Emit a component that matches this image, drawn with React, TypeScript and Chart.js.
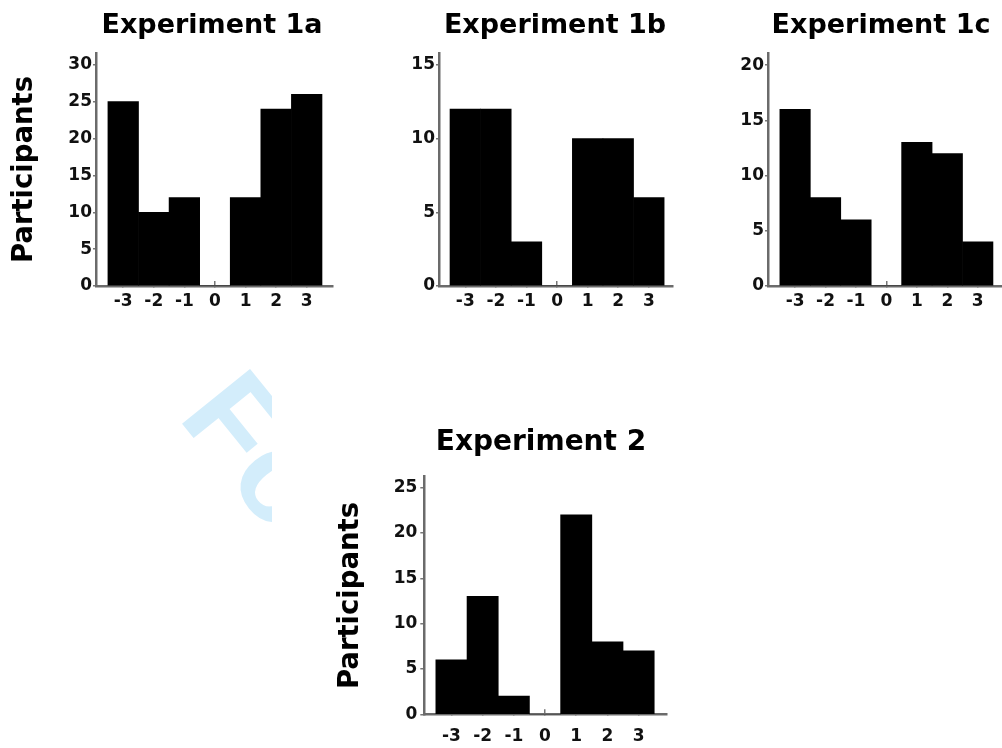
import React, { useEffect, useRef } from "react";
import { Chart, registerables } from "chart.js";

Chart.register(...registerables);

// ---------- data ----------
const scores = [-3, -2, -1, 0, 1, 2, 3];
const exp1a = [25, 10, 12, 0, 12, 24, 26];
const exp1b = [12, 12, 3, 0, 10, 10, 6];
const exp1c = [16, 8, 6, 0, 13, 12, 4];
const exp2 = [6, 13, 2, 0, 22, 8, 7];
const yTicks1a = [0, 5, 10, 15, 20, 25, 30];
const yTicks1b = [0, 5, 10, 15];
const yTicks1c = [0, 5, 10, 15, 20];
const yTicks2 = [0, 5, 10, 15, 20, 25];
const titles = ["Experiment 1a", "Experiment 1b", "Experiment 1c", "Experiment 2"];
const yTitle = "Participants";
const watermark = "For Peer Review";

// ---------- layout (positions/styles only) ----------
const FONT = "'DejaVu Sans', sans-serif";

type PanelCfg = {
  title: string;
  values: number[];
  yTicks: number[];
  left: number;
  top: number;
  width: number;
  height: number;
  padRight: number;
  yWidth: number;
  xHeight: number;
  xMin: number;
  xMax: number;
  yMax: number;
  titleSize: number;
  titlePadTop: number;
  titlePadBottom: number;
  showYTitle: boolean;
  yTitlePad: number;
  xLabelPad: number;
  yTickLen: number;
  yLabelPad: number;
};

const panels: PanelCfg[] = [
  {
    title: titles[0], values: exp1a, yTicks: yTicks1a,
    left: 0, top: 0, width: 424, height: 320, padRight: 91, yWidth: 96, xHeight: 34,
    xMin: -3.89, xMax: 3.86, yMax: 31.6,
    titleSize: 27, titlePadTop: 9.8, titlePadBottom: 10.8,
    showYTitle: true, yTitlePad: 8.8, xLabelPad: 10.4, yTickLen: 3, yLabelPad: 1,
  },
  {
    title: titles[1], values: exp1b, yTicks: yTicks1b,
    left: 400, top: 0, width: 310, height: 320, padRight: 37, yWidth: 39, xHeight: 34,
    xMin: -3.86, xMax: 3.79, yMax: 15.8,
    titleSize: 27, titlePadTop: 9.8, titlePadBottom: 10.8,
    showYTitle: false, yTitlePad: 0, xLabelPad: 10.4, yTickLen: 3, yLabelPad: 1,
  },
  {
    title: titles[2], values: exp1c, yTicks: yTicks1c,
    left: 740, top: 0, width: 282, height: 320, padRight: 12, yWidth: 28, xHeight: 34,
    xMin: -3.89, xMax: 4.06, yMax: 21.1,
    titleSize: 27, titlePadTop: 9.8, titlePadBottom: 10.8,
    showYTitle: false, yTitlePad: 0, xLabelPad: 10.4, yTickLen: 3, yLabelPad: 1,
  },
  {
    title: titles[3], values: exp2, yTicks: yTicks2,
    left: 320, top: 400, width: 442, height: 348, padRight: 95.3, yWidth: 104.3, xHeight: 33.7,
    xMin: -3.87, xMax: 3.9, yMax: 26.2,
    titleSize: 28, titlePadTop: 25.5, titlePadBottom: 17.6,
    showYTitle: true, yTitlePad: 14.8, xLabelPad: 17.2, yTickLen: 4, yLabelPad: 3,
  },
];

function Panel({ cfg }: { cfg: PanelCfg }) {
  const ref = useRef<HTMLCanvasElement | null>(null);
  useEffect(() => {
    if (!ref.current) return;
    const tickFont = { family: FONT, size: 17, weight: "bold" as const };
    const chart = new Chart(ref.current, {
      type: "bar",
      data: {
        datasets: [
          {
            data: scores.map((x, i) => ({ x, y: cfg.values[i] })),
            backgroundColor: "#000000",
            borderWidth: 0,
            barPercentage: 1,
            categoryPercentage: 1,
            yAxisID: "y",
          } as any,
        ],
      },
      options: {
        responsive: false,
        animation: false,
        devicePixelRatio: 1,
        layout: { padding: 0 },
        plugins: {
          legend: { display: false },
          tooltip: { enabled: false },
          title: {
            display: true,
            text: cfg.title,
            color: "#000000",
            font: { family: FONT, size: cfg.titleSize, weight: "bold" },
            padding: { top: cfg.titlePadTop, bottom: cfg.titlePadBottom },
          },
        },
        scales: {
          x: {
            type: "linear",
            min: cfg.xMin,
            max: cfg.xMax,
            offset: false,
            afterBuildTicks: (s: any) => {
              s.ticks = scores.map((v) => ({ value: v }));
            },
            afterFit: (s: any) => {
              s.height = cfg.xHeight;
            },
            ticks: {
              font: tickFont,
              color: "#111111",
              padding: cfg.xLabelPad,
              autoSkip: false,
              maxRotation: 0,
              callback: (v: any) => String(v),
            },
            grid: {
              drawOnChartArea: false,
              drawTicks: true,
              tickLength: -5,
              color: "#777777",
              lineWidth: 1.5,
              offset: false,
            },
            border: { color: "#6b6b6b", width: 2.5 },
          },
          y: {
            position: "left",
            min: 0,
            max: cfg.yMax,
            afterBuildTicks: (s: any) => {
              s.ticks = cfg.yTicks.map((v) => ({ value: v }));
            },
            afterFit: (s: any) => {
              s.width = cfg.yWidth;
            },
            ticks: {
              font: tickFont,
              color: "#111111",
              padding: cfg.yLabelPad,
              callback: (v: any) => String(v),
            },
            grid: {
              drawOnChartArea: false,
              drawTicks: true,
              tickLength: cfg.yTickLen,
              color: "#777777",
              lineWidth: 1.5,
            },
            border: { color: "#6b6b6b", width: 2.5 },
            title: {
              display: cfg.showYTitle,
              text: yTitle,
              color: "#000000",
              font: { family: FONT, size: 27.5, weight: "bold" },
              padding: { top: cfg.yTitlePad, bottom: 0 },
            },
          },
          spacer: {
            position: "right",
            display: true,
            min: 0,
            max: 1,
            ticks: { display: false },
            grid: { display: false, drawTicks: false },
            border: { display: false },
            afterFit: (s: any) => {
              s.width = cfg.padRight;
            },
          },
        } as any,
      },
    });
    return () => chart.destroy();
  }, [cfg]);
  return (
    <canvas
      ref={ref}
      width={cfg.width}
      height={cfg.height}
      style={{ position: "absolute", left: cfg.left, top: cfg.top, width: cfg.width, height: cfg.height }}
    />
  );
}

export default function App() {
  return (
    <div
      style={{
        position: "absolute",
        left: 0,
        top: 0,
        width: 1002,
        height: 748,
        overflow: "hidden",
        background: "#ffffff",
      }}
    >
      <div style={{ position: "absolute", left: 0, top: 0, width: 272, height: 748, overflow: "hidden" }}>
        <div
          style={{
            position: "absolute",
            left: 259.7,
            top: 350.2,
            transformOrigin: "0 0",
            transform: "rotate(51deg)",
            fontFamily: "'Liberation Sans', Arial, sans-serif",
            fontWeight: "bold",
            fontSize: 127,
            lineHeight: 1,
            whiteSpace: "nowrap",
            color: "#d3edfb",
          }}
        >
          {watermark}
        </div>
      </div>
      {panels.map((p, i) => (
        <Panel key={i} cfg={p} />
      ))}
    </div>
  );
}
